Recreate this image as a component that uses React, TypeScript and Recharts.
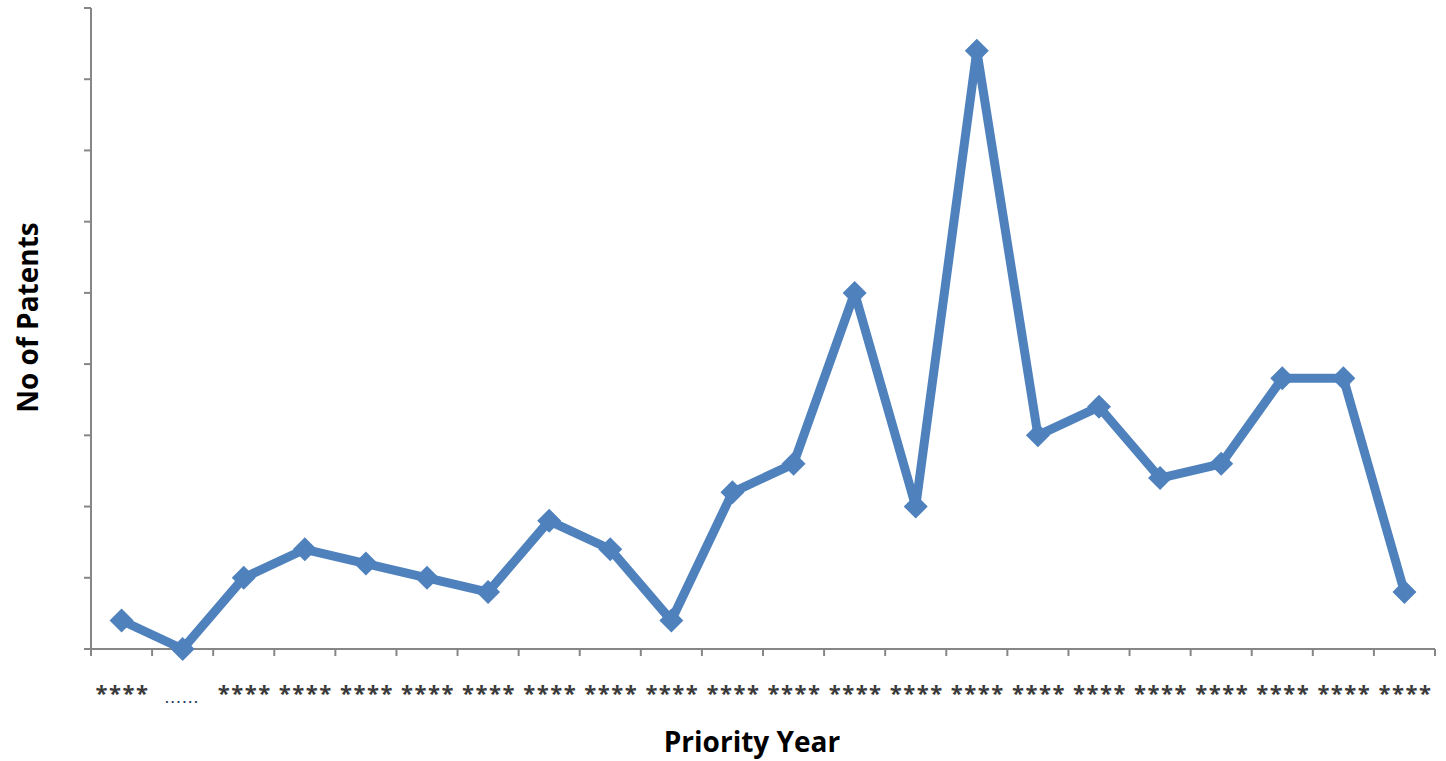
import { LineChart, Line, XAxis, YAxis } from 'recharts';

// priority years are masked in the source, only the placeholder labels are shown
const yearLabels = [
  '****', '......', '****', '****', '****', '****', '****', '****', '****', '****', '****',
  '****', '****', '****', '****', '****', '****', '****', '****', '****', '****', '****',
];
const patents = [2, 0, 5, 7, 6, 5, 4, 9, 7, 2, 11, 13, 25, 10, 42, 15, 17, 12, 13, 19, 19, 4];
const yTicks = [0, 5, 10, 15, 20, 25, 30, 35, 40, 45];

const data = patents.map((v, i) => ({ pos: i + 0.5, label: yearLabels[i], patents: v }));
const xTicks = yearLabels.map((_, i) => i).concat(yearLabels.length);

const W = 1446;
const H = 761;
const M = { top: 8, right: 11, left: 0, bottom: 0 };
const Y_W = 91;
const X_H = 112;
const halfBand = (W - M.left - M.right - Y_W) / yearLabels.length / 2;

const AXIS = '#868686';
const BLUE = '#4F81BD';
const FONT = 'Open Sans, sans-serif';

const YearTick = (props: any) => {
  const { x, y, payload } = props;
  const label = yearLabels[payload.value];
  if (label === undefined) return <g />;
  if (label.startsWith('.')) {
    return (
      <text x={x + halfBand} y={y + 45} textAnchor="middle" fontSize={14} fontWeight={700}
        fill="#1F3864" fontFamily="Lato, sans-serif" letterSpacing={2.5}>
        {label}
      </text>
    );
  }
  return (
    <text x={x + halfBand + 1} y={y + 43} textAnchor="middle" fontSize={22} fontWeight={700}
      fill="#3a3a3a" fontFamily={FONT} letterSpacing={1.5}>
      {label}
    </text>
  );
};

const Diamond = (props: any) => {
  const { cx, cy } = props;
  if (cx == null || cy == null) return <g />;
  const r = 12;
  return (
    <polygon points={`${cx},${cy - r} ${cx + r},${cy} ${cx},${cy + r} ${cx - r},${cy}`} fill={BLUE} />
  );
};

export default function App() {
  return (
    <div style={{ position: 'absolute', left: 0, top: 0, width: W, height: H, background: '#fff' }}>
      <LineChart width={W} height={H} data={data} margin={M}>
        <XAxis
          dataKey="pos"
          type="number"
          domain={[0, yearLabels.length]}
          ticks={xTicks}
          interval={0}
          height={X_H}
          stroke={AXIS}
          strokeWidth={2}
          tickSize={7}
          tick={<YearTick />}
          label={(p: any) => {
            const vb = p.viewBox;
            return (
              <text x={vb.x + vb.width / 2 - 11} y={vb.y + 103} textAnchor="middle" fontSize={28}
                fontWeight={700} fill="#000" fontFamily={FONT}>
                Priority Year
              </text>
            );
          }}
        />
        <YAxis
          domain={[0, 45]}
          ticks={yTicks}
          interval={0}
          width={Y_W}
          stroke={AXIS}
          strokeWidth={2}
          tickSize={7}
          tickFormatter={() => ''}
          label={(p: any) => {
            const vb = p.viewBox;
            const cy = vb.y + vb.height / 2 - 11;
            return (
              <text x={38} y={cy} transform={`rotate(-90 38 ${cy})`} textAnchor="middle"
                fontSize={28} fontWeight={700} fill="#000" fontFamily={FONT}>
                No of Patents
              </text>
            );
          }}
        />
        <Line
          dataKey="patents"
          stroke={BLUE}
          strokeWidth={9}
          strokeLinejoin="round"
          dot={<Diamond />}
          activeDot={false}
          isAnimationActive={false}
        />
      </LineChart>
    </div>
  );
}
